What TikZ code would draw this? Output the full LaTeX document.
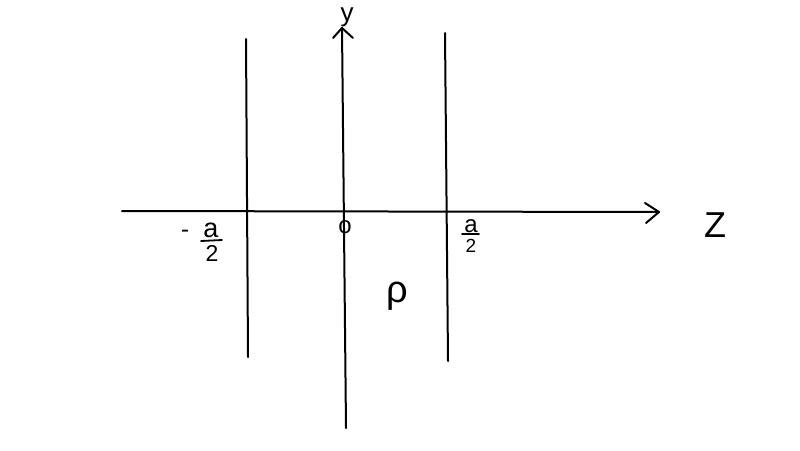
\documentclass[tikz,border=0pt]{standalone}
\usepackage{fontspec}
\setmainfont{Liberation Sans}
\tikzset{
  axisline/.style={draw=black,line width=2pt,line cap=round,line join=round},
  fracbar/.style={draw=black,line width=1.8pt,line cap=round},
  lab/.style={inner sep=0pt,outer sep=0pt,text=black,font=\fontsize{#1}{#1}\selectfont}
}
\begin{document}
\begin{tikzpicture}[x=1pt,y=-1pt]
\useasboundingbox[fill=white] (0,0) rectangle (800,450);
% axis ends
\coordinate (zs) at (122,211);
\coordinate (zt) at (659,212);
\coordinate (zu) at (645,203);
\coordinate (zd) at (646,223);
\coordinate (ys) at (346,428);
\coordinate (yt) at (342,28);
\coordinate (yl) at (333,38);
\coordinate (yr) at (353,38);
\coordinate (lt) at (246,39);
\coordinate (lb) at (248,357);
\coordinate (rt) at (445,33);
\coordinate (rb) at (448,361);
\coordinate (lbl) at (201,241);
\coordinate (lbr) at (222,240);
\coordinate (rbl) at (462,234);
\coordinate (rbr) at (479,234);
\draw[axisline] (zs) -- (zt);
\draw[axisline] (zu) -- (zt) -- (zd);
\draw[axisline] (ys) -- (yt);
\draw[axisline] (yl) -- (yt) -- (yr);
\draw[axisline] (lt) -- (lb);
\draw[axisline] (rt) -- (rb);
\draw[fracbar] (lbl) -- (lbr);
\draw[fracbar] (rbl) -- (rbr);
% labels
\node[lab=26] (ylab) at (347,17) {y};
\node[lab=36] (zlab) at (715,225) {Z};
\node[lab=24] (olab) at (345,227) {o};
\node[lab=38] (plab) at (397,296) {ρ};
\node[lab=24] (mlab) at (185,234) {-};
\node[lab=27] (anum) at (211,230) {a};
\node[lab=23] (adenom) at (212,253) {2};
\node[lab=24] (bnum) at (471,226) {a};
\node[lab=19] (bdenom) at (471,246) {2};
\end{tikzpicture}
\end{document}
